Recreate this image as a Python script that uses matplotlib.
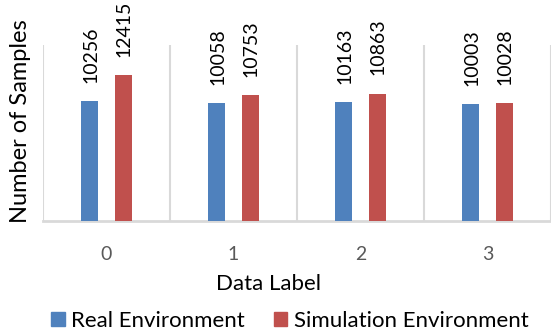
import matplotlib
matplotlib.use("Agg")
import matplotlib.pyplot as plt
import numpy as np
from matplotlib.patches import Patch

categories = ["0", "1", "2", "3"]
real_env = [10256, 10058, 10163, 10003]
sim_env = [12415, 10753, 10863, 10028]
series_names = ["Real Environment", "Simulation Environment"]

plt.rcParams["font.family"] = ["Lato", "DejaVu Sans"]

BLUE = "#4F81BD"
RED = "#C0504D"
GRID = "#D9D9D9"

fig = plt.figure(figsize=(5.51, 3.31), dpi=100)
ax = fig.add_axes([43 / 551, 1 - 221 / 331, 1 - 43 / 551, 176 / 331])

x = np.arange(len(categories))
w = 0.134
off = 0.13
b1 = ax.bar(x - off, real_env, w, color=BLUE, zorder=3)
b2 = ax.bar(x + off, sim_env, w, color=RED, zorder=3)

for bars, vals in ((b1, real_env), (b2, sim_env)):
    for rect, v in zip(bars, vals):
        ax.annotate(str(v), (rect.get_x() + rect.get_width() / 2, v),
                    xytext=(0.5, 13), textcoords="offset points",
                    rotation=90, ha="center", va="bottom",
                    fontsize=14, color="black", annotation_clip=False)

ax.set_xlim(-0.5, len(categories) - 0.5)
ax.set_ylim(0, 15000)

# category separators
for s in np.arange(-0.5, len(categories), 1.0):
    ax.axvline(s, color=GRID, lw=1.5, zorder=1)

for side in ("top", "right", "left"):
    ax.spines[side].set_visible(False)
ax.spines["bottom"].set_color(GRID)
ax.spines["bottom"].set_linewidth(2)

ax.set_yticks([])
ax.set_xticks(x)
ax.set_xticklabels(categories)
ax.tick_params(axis="x", length=0, pad=18, labelsize=14, labelcolor="#595959")

fig.text(269 / 551, 1 - 284 / 331, "Data Label",
         ha="center", va="center", fontsize=16, color="black")
fig.text(21 / 551, 1 - 121 / 331, "Number of Samples", rotation=90,
         ha="center", va="center", fontsize=17, color="black")

handles = [Patch(color=BLUE), Patch(color=RED)]
fig.legend(handles, series_names, loc="center", ncol=2,
           bbox_to_anchor=(290 / 551, 1 - 321 / 331), frameon=False,
           fontsize=16, handlelength=0.6, handleheight=0.6,
           handletextpad=0.3, columnspacing=1.3, borderpad=0)

fig.savefig("out.png", dpi=100)
